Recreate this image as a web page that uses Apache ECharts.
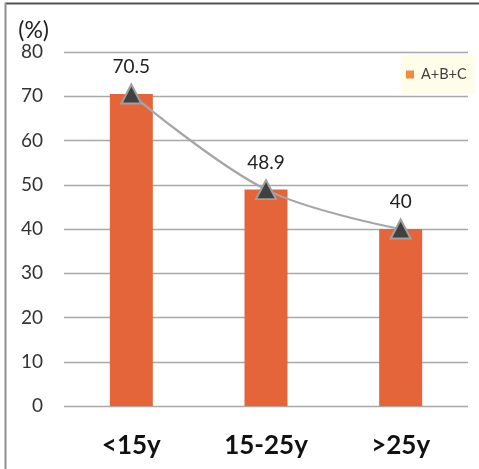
<!DOCTYPE html>
<html>
<head>
<meta charset="utf-8">
<script src="https://cdn.jsdelivr.net/npm/echarts@6/dist/echarts.min.js"></script>
<style>
  html, body { margin: 0; padding: 0; background: #fff; }
  #chart { width: 479px; height: 469px; }
</style>
</head>
<body>
<div id="chart"></div>
<script>
// Age groups and the share (%) in each
const categories = ['<15y', '15-25y', '>25y'];
const values = [70.5, 48.9, 40];
const yTicks = [0, 10, 20, 30, 40, 50, 60, 70, 80];
const seriesName = 'A+B+C';

const FONT = 'Lato, "Open Sans", sans-serif';
const chart = echarts.init(document.getElementById('chart'));

chart.setOption({
  animation: false,
  backgroundColor: '#ffffff',
  textStyle: { fontFamily: FONT },
  grid: { left: 64, right: 11, top: 52, bottom: 63 },
  legend: {
    show: true,
    left: 402,
    top: 55,
    orient: 'vertical',
    backgroundColor: '#fdfdea',
    padding: [12, 8, 12, 4],
    itemWidth: 8,
    itemHeight: 8,
    itemGap: 4,
    textStyle: { fontFamily: FONT, fontSize: 14.5, color: '#404040', padding: [0, 0, 0, 2] },
    data: [{ name: seriesName, icon: 'rect', itemStyle: { color: '#F08A3C' } }]
  },
  xAxis: {
    type: 'category',
    data: categories,
    axisLine: { show: false },
    axisTick: { show: false },
    axisLabel: { color: '#111', fontSize: 26, fontWeight: 'bold', margin: 27, fontFamily: FONT }
  },
  yAxis: {
    type: 'value',
    min: yTicks[0],
    max: yTicks[yTicks.length - 1],
    interval: 10,
    name: '(%)',
    nameLocation: 'end',
    nameGap: 10,
    nameTextStyle: { color: '#222', fontSize: 23, align: 'right', padding: [0, 15, 0, 0], fontFamily: FONT },
    axisLine: { show: false },
    axisTick: { show: false },
    axisLabel: { color: '#333', fontSize: 19, margin: 21, fontFamily: FONT },
    splitLine: { lineStyle: { color: '#a8a8a8', width: 1.3 } }
  },
  series: [
    {
      name: seriesName,
      type: 'bar',
      data: values,
      barWidth: 43,
      itemStyle: { color: '#E5653A' },
      z: 2
    },
    {
      name: 'trend',
      type: 'line',
      data: values,
      smooth: 0.35,
      symbol: 'triangle',
      symbolSize: [20, 19],
      lineStyle: { color: '#a6a6a6', width: 2.2 },
      itemStyle: { color: '#404040', borderColor: '#a0a0a0', borderWidth: 2 },
      label: {
        show: true,
        position: 'top',
        distance: 7,
        fontSize: 19,
        color: '#222',
        fontFamily: FONT
      },
      z: 3
    }
  ],
  graphic: [
    { type: 'line', shape: { x1: 5, y1: 3.5, x2: 479, y2: 3.5 }, style: { stroke: '#505050', lineWidth: 2 } },
    { type: 'line', shape: { x1: 5.5, y1: 3, x2: 5.5, y2: 469 }, style: { stroke: '#909090', lineWidth: 2 } }
  ]
});
</script>
</body>
</html>
